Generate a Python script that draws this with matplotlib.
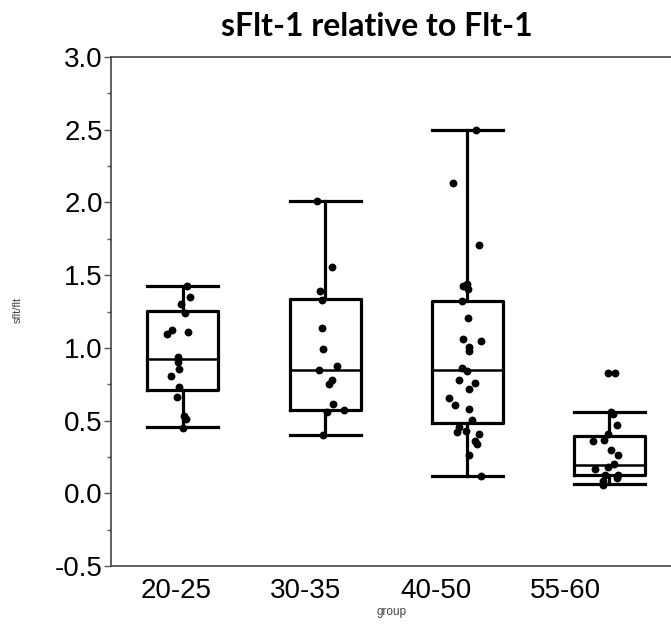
import numpy as np
import matplotlib
matplotlib.use("Agg")
import matplotlib.pyplot as plt
from matplotlib.ticker import MultipleLocator

groups = ["20-25", "30-35", "40-50", "55-60"]

# box statistics per group: lower whisker, Q1, median, Q3, upper whisker
whisker_lo = [0.455, 0.400, 0.117, 0.062]
q1 = [0.713, 0.576, 0.480, 0.124]
median = [0.920, 0.851, 0.851, 0.197]
q3 = [1.254, 1.337, 1.323, 0.392]
whisker_hi = [1.426, 2.011, 2.498, 0.560]

# individual sflt/flt values per group
vals_20_25 = [1.426, 1.351, 1.305, 1.241, 1.122, 1.094, 1.110, 0.934, 0.904,
              0.858, 0.805, 0.731, 0.663, 0.530, 0.509, 0.452]
vals_30_35 = [2.011, 1.553, 1.392, 1.328, 1.138, 0.989, 0.876, 0.846, 0.778,
              0.750, 0.612, 0.576, 0.560, 0.399]
vals_40_50 = [2.498, 2.131, 1.706, 1.427, 1.436, 1.402, 1.321, 1.206, 1.064,
              1.046, 1.007, 0.979, 0.862, 0.839, 0.782, 0.755, 0.716, 0.656,
              0.610, 0.583, 0.502, 0.456, 0.422, 0.427, 0.411, 0.358, 0.337,
              0.266, 0.117]
vals_55_60 = [0.828, 0.828, 0.560, 0.548, 0.468, 0.411, 0.365, 0.358, 0.296,
              0.261, 0.200, 0.181, 0.170, 0.124, 0.124, 0.108, 0.085, 0.055]

# horizontal jitter of each dot (category units)
jit_20_25 = [0.03, 0.05, -0.014, 0.014, -0.075, -0.11, 0.033, -0.033, -0.033,
             -0.026, -0.085, -0.026, -0.044, 0.007, 0.021, 0.002]
jit_30_35 = [-0.059, 0.049, -0.035, -0.023, -0.023, -0.012, 0.082, -0.042,
             0.047, 0.030, 0.059, 0.136, 0.016, -0.016]
jit_40_50 = [0.063, -0.097, 0.086, -0.030, 0.002, 0.009, -0.037, 0.009, -0.026,
             0.098, 0.016, 0.016, -0.033, 0.002, -0.054, 0.056, 0.016, -0.124,
             -0.085, 0.016, 0.037, -0.056, -0.068, -0.007, 0.082, 0.056, 0.072,
             0.016, 0.098]
jit_55_60 = [-0.005, 0.042, 0.012, 0.030, 0.054, -0.005, -0.035, -0.115, 0.014,
             0.061, 0.035, -0.005, -0.099, -0.028, 0.066, 0.054, -0.040, -0.040]

values = [vals_20_25, vals_30_35, vals_40_50, vals_55_60]
jitters = [jit_20_25, jit_30_35, jit_40_50, jit_55_60]

W, H, DPI = 671, 629, 100
fig = plt.figure(figsize=(W / DPI, H / DPI), dpi=DPI)
fig.patch.set_facecolor("white")

# axes frame in pixels; right edge runs off the canvas
left_px, right_px, top_px, bottom_px = 111, 680, 57, 566
ax = fig.add_axes([left_px / W, 1 - bottom_px / H,
                   (right_px - left_px) / W, (bottom_px - top_px) / H])

positions = np.arange(len(groups))
stats = [dict(whislo=whisker_lo[i], q1=q1[i], med=median[i], q3=q3[i],
              whishi=whisker_hi[i], fliers=[]) for i in range(len(groups))]

line_kw = dict(color="black", linewidth=2.3)
ax.bxp(stats, positions=positions, widths=0.5, capwidths=0.5,
       showfliers=False, patch_artist=False,
       boxprops=line_kw, whiskerprops=line_kw, capprops=line_kw,
       medianprops=dict(color="black", linewidth=1.8))

for i, (v, j) in enumerate(zip(values, jitters)):
    ax.scatter(positions[i] + np.asarray(j), v, s=32, color="black",
               zorder=5, linewidths=0)

ax.set_xlim((left_px - 183) / 142, (right_px - 183) / 142)
ax.set_ylim(-0.5, 3.0)

# category labels sit on their own slightly tighter spacing
label_x = positions * 0.915 - 0.05
ax.set_xticks(label_x)
ax.set_xticklabels(groups, fontsize=20, family="Liberation Sans")
ax.tick_params(axis="x", length=0, pad=9)

ax.yaxis.set_major_locator(MultipleLocator(0.5))
ax.yaxis.set_minor_locator(MultipleLocator(0.25))
ax.set_yticks(np.arange(-0.5, 3.01, 0.5))
ax.set_yticklabels([f"{t:.1f}" for t in np.arange(-0.5, 3.01, 0.5)],
                   fontsize=20, family="Liberation Sans")
ax.tick_params(axis="y", which="major", length=5, width=1, color="#555555",
               pad=1)
ax.tick_params(axis="y", which="minor", length=3, width=1, color="#555555")

for side in ["left", "bottom", "top", "right"]:
    ax.spines[side].set_color("#444444")
    ax.spines[side].set_linewidth(1.2)

fig.text(18 / W, 1 - 310 / H, "sflt/flt", rotation=90, fontsize=8,
         color="#444444", ha="center", va="center", family="Liberation Sans")
fig.text(392 / W, 1 - 612 / H, "group", fontsize=8.5, color="#444444",
         ha="center", va="center", family="Liberation Sans")
fig.text(377 / W, 1 - 27 / H, "sFlt-1 relative to Flt-1", fontsize=23,
         fontweight="bold", ha="center", va="center", family="Lato")

fig.savefig("out.png", dpi=DPI)
